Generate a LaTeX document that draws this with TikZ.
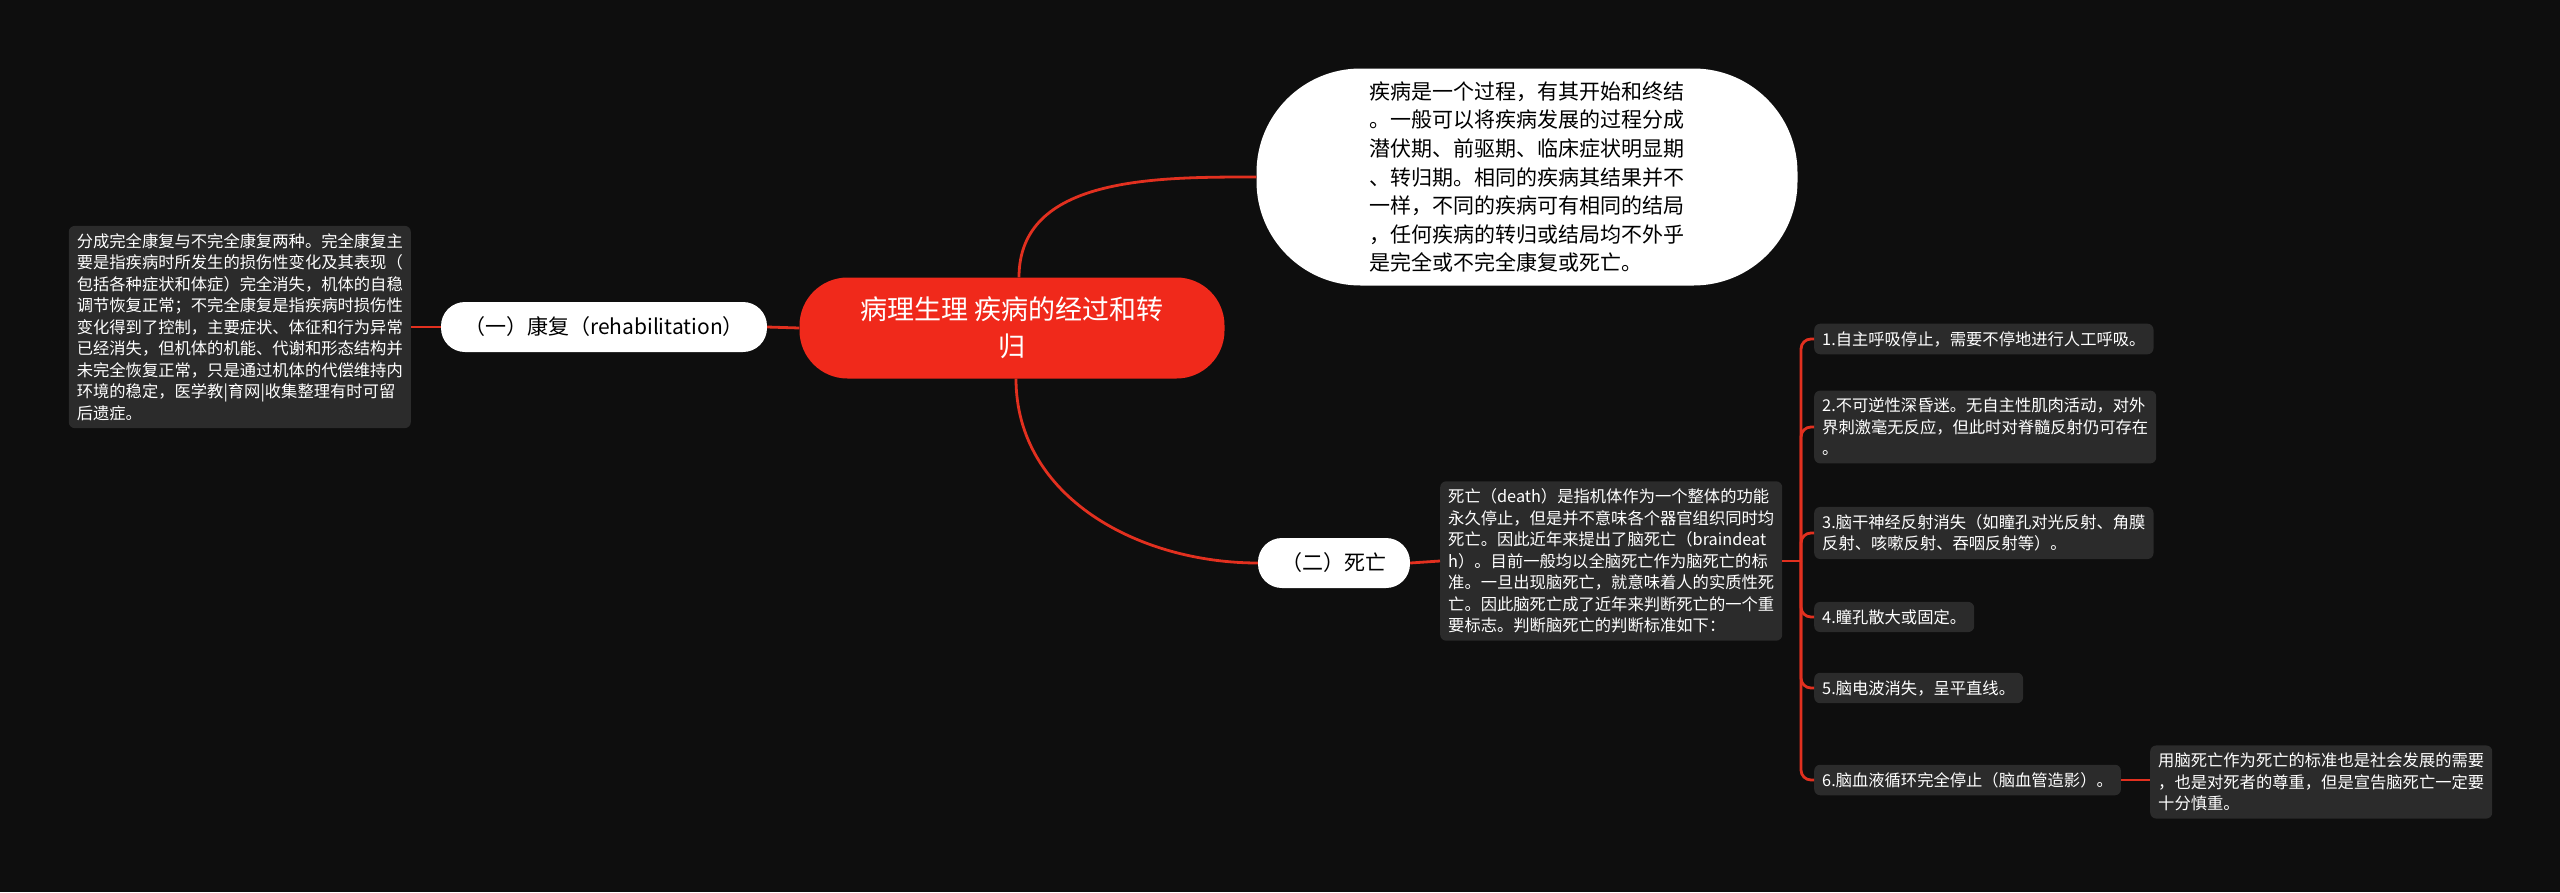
\documentclass[tikz,border=0pt]{standalone}
\usepackage{fontspec}
\setmainfont{Noto Sans CJK SC}
\definecolor{bgdark}{HTML}{0E0E0E}
\definecolor{rootred}{HTML}{F0291B}
\definecolor{linkred}{HTML}{E2301F}
\definecolor{boxgray}{HTML}{2B2B2B}

\begin{document}
\begin{tikzpicture}[x=1pt,y=1pt,
	link/.style={linkred,line width=2.8pt},
	rootbox/.style={fill=rootred,text=white,rounded corners=48pt,minimum width=425pt,minimum height=101pt,align=center,font=\fontsize{27}{37}\selectfont},
	bubble/.style={fill=white,text=black,rounded corners=104pt,minimum width=541pt,minimum height=217pt,align=left,font=\fontsize{21}{28.6}\selectfont},
	pillbox/.style={fill=white,text=black,rounded corners=24pt,minimum height=50pt,align=center,font=\fontsize{21}{26}\selectfont},
	notebox/.style={fill=boxgray,text=white,rounded corners=6pt,align=left,inner xsep=8pt,inner ysep=7.5pt,font=\fontsize{16.3}{21.5}\selectfont}]
		\fill[bgdark] (0,0) rectangle (2560,-892);
		% main nodes
		\node[rootbox] (root) at (1012,-328) {病理生理 疾病的经过和转\\归};
		\node[bubble] (course) at (1527,-177) {疾病是一个过程，有其开始和终结\\。一般可以将疾病发展的过程分成\\潜伏期、前驱期、临床症状明显期\\、转归期。相同的疾病其结果并不\\一样，不同的疾病可有相同的结局\\，任何疾病的转归或结局均不外乎\\是完全或不完全康复或死亡。};
		\node[pillbox,minimum width=326pt] (recover) at (604,-327) {（一）康复（rehabilitation）};
		\node[notebox,anchor=east] (recovernote) at (411,-327) {分成完全康复与不完全康复两种。完全康复主\\要是指疾病时所发生的损伤性变化及其表现（\\包括各种症状和体症）完全消失，机体的自稳\\调节恢复正常；不完全康复是指疾病时损伤性\\变化得到了控制，主要症状、体征和行为异常\\已经消失，但机体的机能、代谢和形态结构并\\未完全恢复正常，只是通过机体的代偿维持内\\环境的稳定，医学教|育网|收集整理有时可留\\后遗症。};
		\node[pillbox,minimum width=152pt] (death) at (1334,-563) {（二）死亡};
		\node[notebox,anchor=west] (deathnote) at (1440,-561) {死亡（death）是指机体作为一个整体的功能\\永久停止，但是并不意味各个器官组织同时均\\死亡。因此近年来提出了脑死亡（braindeat\\h）。目前一般均以全脑死亡作为脑死亡的标\\准。一旦出现脑死亡，就意味着人的实质性死\\亡。因此脑死亡成了近年来判断死亡的一个重\\要标志。判断脑死亡的判断标准如下：};
		% criteria
		\node[notebox,anchor=west] (crit1) at (1814,-339) {1.自主呼吸停止，需要不停地进行人工呼吸。};
		\node[notebox,anchor=west] (crit2) at (1814,-427) {2.不可逆性深昏迷。无自主性肌肉活动，对外\\界刺激毫无反应，但此时对脊髓反射仍可存在\\。};
		\node[notebox,anchor=west] (crit3) at (1814,-533) {3.脑干神经反射消失（如瞳孔对光反射、角膜\\反射、咳嗽反射、吞咽反射等）。};
		\node[notebox,anchor=west] (crit4) at (1814,-617) {4.瞳孔散大或固定。};
		\node[notebox,anchor=west] (crit5) at (1814,-688) {5.脑电波消失，呈平直线。};
		\node[notebox,anchor=west] (crit6) at (1814,-780) {6.脑血液循环完全停止（脑血管造影）。};
		\node[notebox,anchor=west] (respect) at (2150,-782) {用脑死亡作为死亡的标准也是社会发展的需要\\，也是对死者的尊重，但是宣告脑死亡一定要\\十分慎重。};
		\coordinate (hub) at (1801,-561);
		% connectors
		\draw[link] ([xshift=7pt]root.north) to[out=90,in=180] (course.west);
		\draw[link] ([xshift=4pt]root.south) to[out=-90,in=180] (death.west);
		\draw[link] (root.west) -- (recover.east);
		\draw[link] (recover.west) -- (recovernote.east);
		\draw[link] (death.east) -- (deathnote.east -| deathnote.west);
		\draw[link] (deathnote.east) -- (hub);
		\draw[link,rounded corners=10pt] (hub) |- (crit1.west);
		\draw[link,rounded corners=10pt] (hub) |- (crit2.west);
		\draw[link,rounded corners=10pt] (hub) |- (crit3.west);
		\draw[link,rounded corners=10pt] (hub) |- (crit4.west);
		\draw[link,rounded corners=10pt] (hub) |- (crit5.west);
		\draw[link,rounded corners=10pt] (hub) |- (crit6.west);
		\draw[link] (crit6.east) -- (respect.west |- crit6.east);
\end{tikzpicture}
\end{document}
